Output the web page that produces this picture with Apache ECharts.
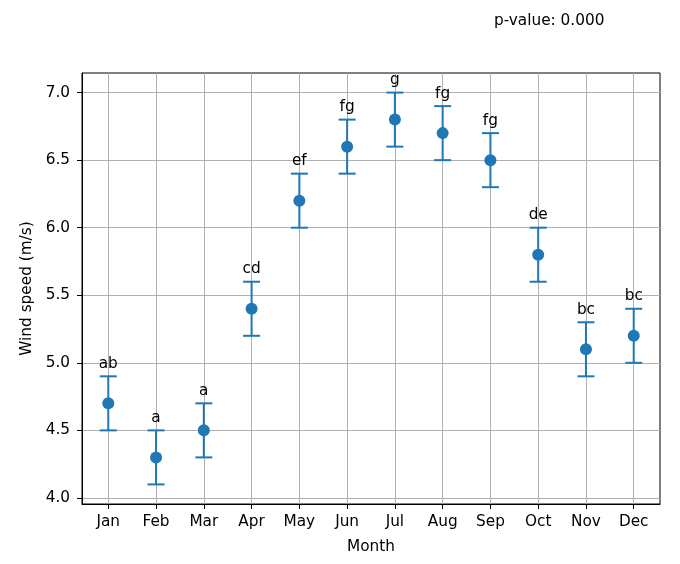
<!DOCTYPE html>
<html>
<head>
<meta charset="utf-8">
<script src="https://cdn.jsdelivr.net/npm/echarts@6/dist/echarts.min.js"></script>
<style>
  html, body { margin: 0; padding: 0; background: #fff; }
  #main { width: 680px; height: 564px; }
</style>
</head>
<body>
<div id="main"></div>
<script>
// monthly wind speed, mean +/- error, with group letters
var months = ['Jan', 'Feb', 'Mar', 'Apr', 'May', 'Jun', 'Jul', 'Aug', 'Sep', 'Oct', 'Nov', 'Dec'];
var meanSpeed = [4.7, 4.3, 4.5, 5.4, 6.2, 6.6, 6.8, 6.7, 6.5, 5.8, 5.1, 5.2];
var errSpeed = [0.2, 0.2, 0.2, 0.2, 0.2, 0.2, 0.2, 0.2, 0.2, 0.2, 0.2, 0.2];
var groupLetters = ['ab', 'a', 'a', 'cd', 'ef', 'fg', 'g', 'fg', 'fg', 'de', 'bc', 'bc'];
var yTicks = [4.0, 4.5, 5.0, 5.5, 6.0, 6.5, 7.0];
var pValueText = 'p-value: 0.000';

var blue = '#1f77b4';
var font = 'DejaVu Sans';
var fs = 15.3;

var myChart = echarts.init(document.getElementById('main'));

var xTicks = months.map(function(m, i) { return i; });

var errData = months.map(function(m, i) {
    return [i, meanSpeed[i] - errSpeed[i], meanSpeed[i] + errSpeed[i]];
});

var pointData = months.map(function(m, i) {
    return [i, meanSpeed[i]];
});

function renderErr(params, api) {
    var idx = api.value(0);
    var lo = api.coord([idx, api.value(1)]);
    var hi = api.coord([idx, api.value(2)]);
    var capW = 8.5;
    var st = { stroke: blue, lineWidth: 2 };
    return {
        type: 'group',
        children: [
            { type: 'line', shape: { x1: lo[0], y1: lo[1], x2: hi[0], y2: hi[1] }, style: st },
            { type: 'line', shape: { x1: lo[0] - capW, y1: lo[1], x2: lo[0] + capW, y2: lo[1] }, style: st },
            { type: 'line', shape: { x1: hi[0] - capW, y1: hi[1], x2: hi[0] + capW, y2: hi[1] }, style: st },
            {
                type: 'text',
                x: hi[0],
                y: hi[1] - 5,
                style: {
                    text: groupLetters[idx],
                    fill: '#000',
                    font: fs + 'px ' + font,
                    textAlign: 'center',
                    textVerticalAlign: 'bottom'
                }
            }
        ]
    };
}

var option = {
    animation: false,
    backgroundColor: '#fff',
    textStyle: { fontFamily: font },
    title: {
        text: pValueText,
        left: 489,
        top: 9,
        textStyle: { fontFamily: font, fontSize: fs, fontWeight: 'normal', color: '#000' }
    },
    grid: {
        left: 82, top: 73, width: 578, height: 431,
        show: true, borderColor: '#000', borderWidth: 1
    },
    xAxis: {
        type: 'value',
        min: -0.55,
        max: 11.55,
        name: 'Month',
        nameLocation: 'middle',
        nameGap: 36,
        nameTextStyle: { fontFamily: font, fontSize: fs, color: '#000' },
        axisLine: { onZero: false, lineStyle: { color: '#000', width: 1 } },
        axisTick: { show: true, inside: false, length: 5, customValues: xTicks, lineStyle: { color: '#000' } },
        axisLabel: {
            fontFamily: font, fontSize: fs, color: '#000', margin: 11,
            customValues: xTicks,
            formatter: function(v) { return months[Math.round(v)]; }
        },
        splitLine: { show: true, lineStyle: { color: '#b0b0b0', width: 1 } }
    },
    yAxis: {
        type: 'value',
        min: 3.955,
        max: 7.145,
        name: 'Wind speed (m/s)',
        nameLocation: 'middle',
        nameGap: 46,
        nameTextStyle: { fontFamily: font, fontSize: fs, color: '#000' },
        axisLine: { show: true, onZero: false, lineStyle: { color: '#000', width: 1 } },
        axisTick: { show: true, inside: false, length: 5, customValues: yTicks, lineStyle: { color: '#000' } },
        axisLabel: {
            fontFamily: font, fontSize: fs, color: '#000', margin: 12,
            customValues: yTicks,
            formatter: function(v) { return v.toFixed(1); }
        },
        splitLine: { show: true, lineStyle: { color: '#b0b0b0', width: 1 } }
    },
    series: [
        {
            type: 'custom',
            renderItem: renderErr,
            data: errData,
            encode: { x: 0, y: [1, 2] },
            z: 2
        },
        {
            type: 'scatter',
            data: pointData,
            symbol: 'circle',
            symbolSize: 12,
            itemStyle: { color: blue, opacity: 1 },
            z: 3
        }
    ]
};

myChart.setOption(option);
</script>
</body>
</html>
